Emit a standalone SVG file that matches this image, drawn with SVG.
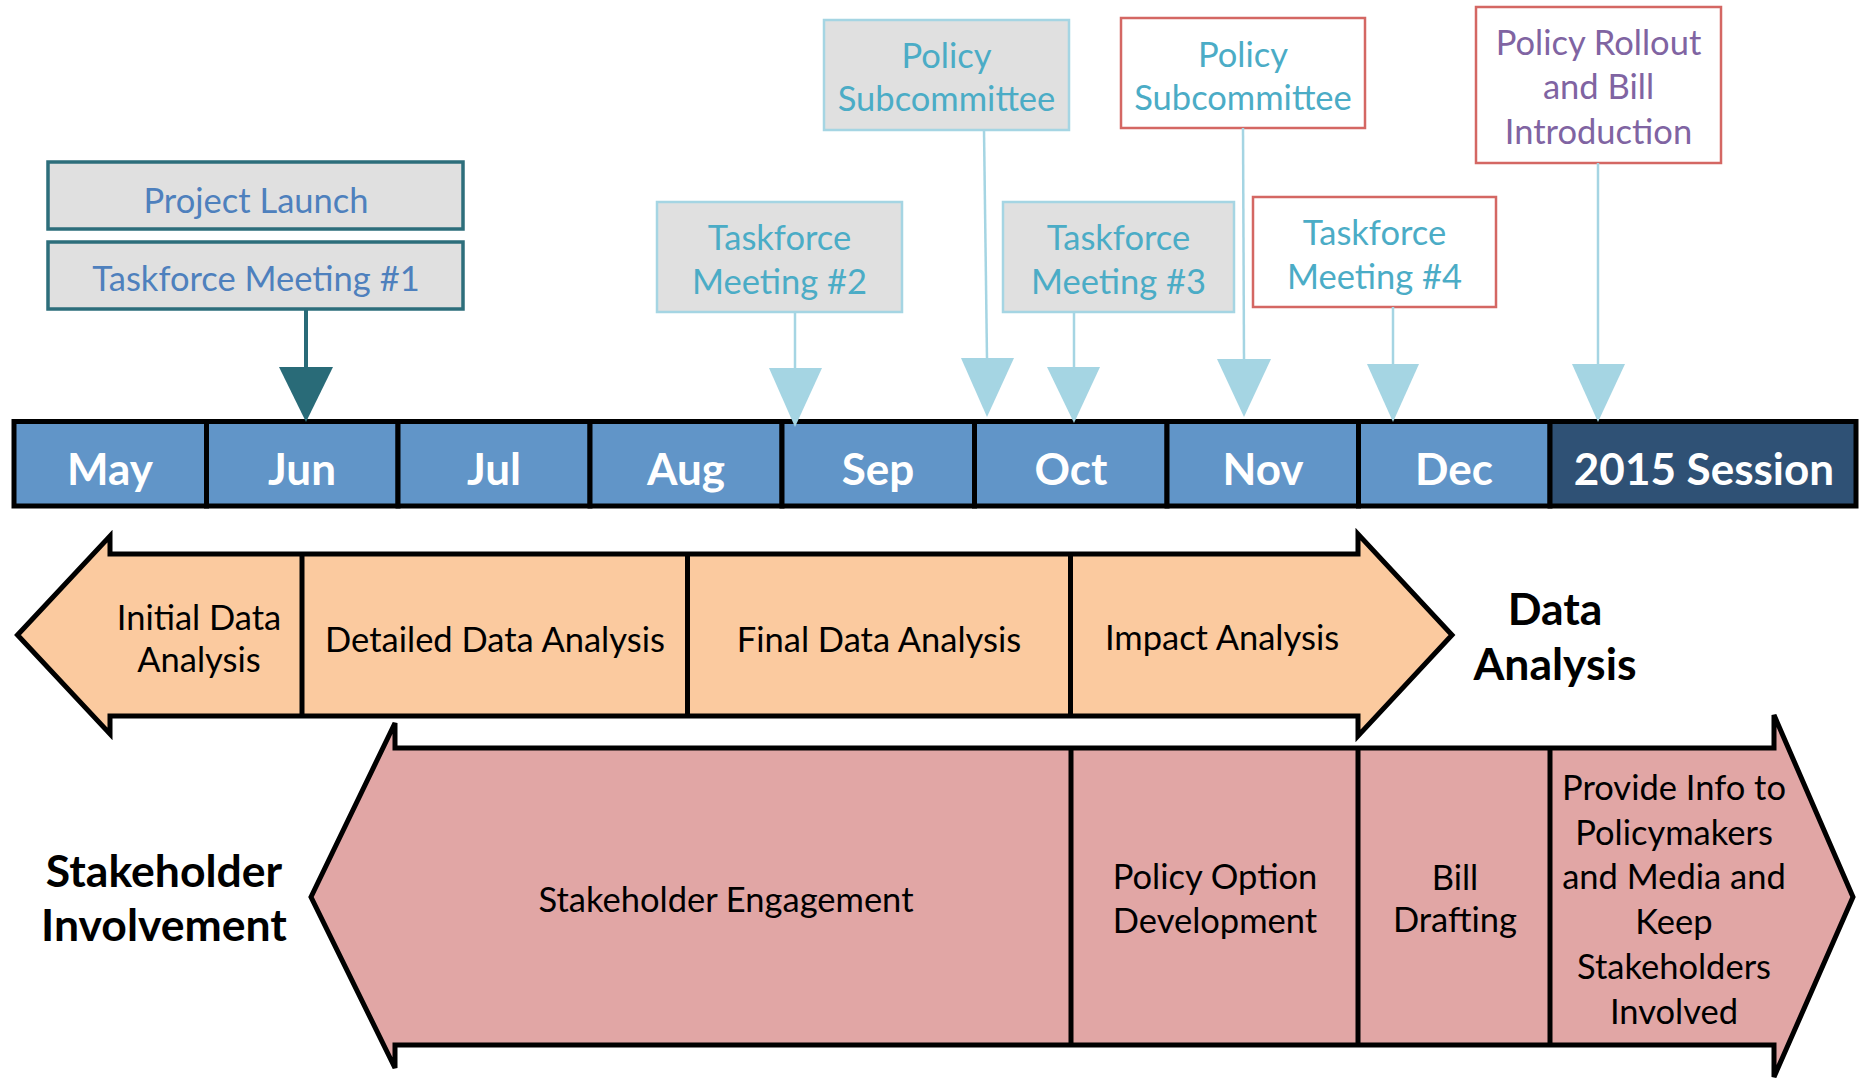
<svg xmlns="http://www.w3.org/2000/svg" width="1865" height="1081" viewBox="0 0 1865 1081">
<style>
  text { font-family: Lato, "Liberation Sans", sans-serif; text-anchor: middle; }
  .box-gray { fill: #E0E0E0; }
  .box-white { fill: #FFFFFF; }
  .st-teal { stroke: #2D6E7B; stroke-width: 3.5; }
  .st-lb { stroke: #A5D5E3; stroke-width: 2.5; }
  .st-red { stroke: #D46763; stroke-width: 2.5; }
  .t-blue { fill: #4E80BD; font-size: 34.5px; }
  .t-cyan { fill: #4BACC6; font-size: 34.5px; }
  .t-purple { fill: #8064A2; font-size: 34.5px; }
  .month { fill: #6195C8; stroke: #000; stroke-width: 5; }
  .session { fill: #2F5175; stroke: #000; stroke-width: 5; }
  .mtext { fill: #FFFFFF; font-size: 44px; font-weight: bold; }
  .body { fill: #000; font-size: 34.5px; }
  .label { fill: #000; font-size: 44.5px; font-weight: bold; }
  .shape { stroke: #000; stroke-width: 5; stroke-linejoin: miter; }
  .div { stroke: #000; stroke-width: 5; }
  .ln-teal { stroke: #296B78; stroke-width: 4; fill: none; }
  .ln-lb { stroke: #A5D5E3; stroke-width: 2.5; fill: none; }
  .hd-teal { fill: #296B78; }
  .hd-lb { fill: #A5D5E3; }
</style>

<!-- Callout boxes -->
<g id="project-launch">
  <rect class="box-gray st-teal" x="48" y="162" width="415" height="67"/>
  <text class="t-blue" x="256" y="213">Project Launch</text>
</g>
<g id="taskforce-1">
  <rect class="box-gray st-teal" x="48" y="242" width="415" height="67"/>
  <text class="t-blue" x="256" y="291">Taskforce Meeting #1</text>
</g>
<g id="taskforce-2">
  <rect class="box-gray st-lb" x="657" y="202" width="245" height="110"/>
  <text class="t-cyan" x="779.5" y="250">Taskforce</text>
  <text class="t-cyan" x="779.5" y="294">Meeting #2</text>
</g>
<g id="policy-sub-1">
  <rect class="box-gray st-lb" x="824" y="20" width="245" height="110"/>
  <text class="t-cyan" x="946.5" y="68">Policy</text>
  <text class="t-cyan" x="946.5" y="111">Subcommittee</text>
</g>
<g id="taskforce-3">
  <rect class="box-gray st-lb" x="1003" y="202" width="231" height="110"/>
  <text class="t-cyan" x="1118.5" y="250">Taskforce</text>
  <text class="t-cyan" x="1118.5" y="294">Meeting #3</text>
</g>
<g id="policy-sub-2">
  <rect class="box-white st-red" x="1121" y="18" width="244" height="110"/>
  <text class="t-cyan" x="1243" y="67">Policy</text>
  <text class="t-cyan" x="1243" y="110">Subcommittee</text>
</g>
<g id="taskforce-4">
  <rect class="box-white st-red" x="1253" y="197" width="243" height="110"/>
  <text class="t-cyan" x="1374.5" y="245">Taskforce</text>
  <text class="t-cyan" x="1374.5" y="289">Meeting #4</text>
</g>
<g id="policy-rollout">
  <rect class="box-white st-red" x="1476" y="7" width="245" height="156"/>
  <text class="t-purple" x="1598.5" y="55">Policy Rollout</text>
  <text class="t-purple" x="1598.5" y="99">and Bill</text>
  <text class="t-purple" x="1598.5" y="144">Introduction</text>
</g>

<!-- Timeline -->
<g id="timeline">
  <rect class="month" x="14" y="421.5" width="192.5" height="84.5"/>
  <rect class="month" x="206.5" y="421.5" width="191.5" height="84.5"/>
  <rect class="month" x="398" y="421.5" width="192" height="84.5"/>
  <rect class="month" x="590" y="421.5" width="192" height="84.5"/>
  <rect class="month" x="782" y="421.5" width="192.5" height="84.5"/>
  <rect class="month" x="974.5" y="421.5" width="192.5" height="84.5"/>
  <rect class="month" x="1167" y="421.5" width="191.5" height="84.5"/>
  <rect class="month" x="1358.5" y="421.5" width="191.5" height="84.5"/>
  <rect class="session" x="1550" y="421.5" width="306" height="84.5"/>
  <text class="mtext" x="110" y="485">May</text>
  <text class="mtext" x="302" y="485">Jun</text>
  <text class="mtext" x="494" y="485">Jul</text>
  <text class="mtext" x="686" y="485">Aug</text>
  <text class="mtext" x="878" y="485">Sep</text>
  <text class="mtext" x="1071" y="485">Oct</text>
  <text class="mtext" x="1263" y="485">Nov</text>
  <text class="mtext" x="1454" y="485">Dec</text>
  <text class="mtext" x="1704" y="485">2015 Session</text>
</g>

<!-- Connectors -->
<g id="connectors">
  <line class="ln-teal" x1="306" y1="310" x2="306" y2="368"/>
  <polygon class="hd-teal" points="279,367 333,367 306,422"/>
  <line class="ln-lb" x1="795" y1="312" x2="795" y2="369"/>
  <polygon class="hd-lb" points="769,368 822,368 795,427"/>
  <line class="ln-lb" x1="984" y1="130" x2="987" y2="359"/>
  <polygon class="hd-lb" points="961,358 1014,358 987,417"/>
  <line class="ln-lb" x1="1074" y1="312" x2="1074" y2="368"/>
  <polygon class="hd-lb" points="1047,367 1100,367 1074,423"/>
  <line class="ln-lb" x1="1243" y1="128" x2="1244" y2="360"/>
  <polygon class="hd-lb" points="1217,359 1271,359 1244,417"/>
  <line class="ln-lb" x1="1393" y1="307" x2="1393" y2="365"/>
  <polygon class="hd-lb" points="1367,364 1419,364 1393,422"/>
  <line class="ln-lb" x1="1598" y1="163" x2="1598" y2="365"/>
  <polygon class="hd-lb" points="1572,364 1625,364 1598,422"/>
</g>

<!-- Data Analysis arrow -->
<g id="data-analysis">
  <polygon class="shape" fill="#FBCA9F" points="17.5,635 110,536 110,554 1358,554 1358,534 1452,635 1358,736 1358,716 110,716 110,734"/>
  <line class="div" x1="302" y1="554" x2="302" y2="716"/>
  <line class="div" x1="687.5" y1="554" x2="687.5" y2="716"/>
  <line class="div" x1="1070.5" y1="554" x2="1070.5" y2="716"/>
  <text class="body" x="199" y="630">Initial Data</text>
  <text class="body" x="199" y="672">Analysis</text>
  <text class="body" x="495" y="652">Detailed Data Analysis</text>
  <text class="body" x="879" y="652">Final Data Analysis</text>
  <text class="body" x="1222" y="650">Impact Analysis</text>
</g>
<g id="data-analysis-label">
  <text class="label" x="1555" y="625">Data</text>
  <text class="label" x="1555" y="680">Analysis</text>
</g>

<!-- Stakeholder arrow -->
<g id="stakeholder">
  <polygon class="shape" fill="#E1A6A5" points="311,897 395,723 395,748 1774,748 1774,715 1853,897 1774,1077 1774,1045 395,1045 395,1068"/>
  <line class="div" x1="1071" y1="748" x2="1071" y2="1045"/>
  <line class="div" x1="1358" y1="748" x2="1358" y2="1045"/>
  <line class="div" x1="1550" y1="748" x2="1550" y2="1045"/>
  <text class="body" x="726" y="912">Stakeholder Engagement</text>
  <text class="body" x="1215" y="889">Policy Option</text>
  <text class="body" x="1215" y="933">Development</text>
  <text class="body" x="1455" y="890">Bill</text>
  <text class="body" x="1455" y="932">Drafting</text>
  <text class="body" x="1674" y="800">Provide Info to</text>
  <text class="body" x="1674" y="845">Policymakers</text>
  <text class="body" x="1674" y="889">and Media and</text>
  <text class="body" x="1674" y="934">Keep</text>
  <text class="body" x="1674" y="979">Stakeholders</text>
  <text class="body" x="1674" y="1024">Involved</text>
</g>
<g id="stakeholder-label">
  <text class="label" x="164" y="887">Stakeholder</text>
  <text class="label" x="164" y="941">Involvement</text>
</g>
</svg>
